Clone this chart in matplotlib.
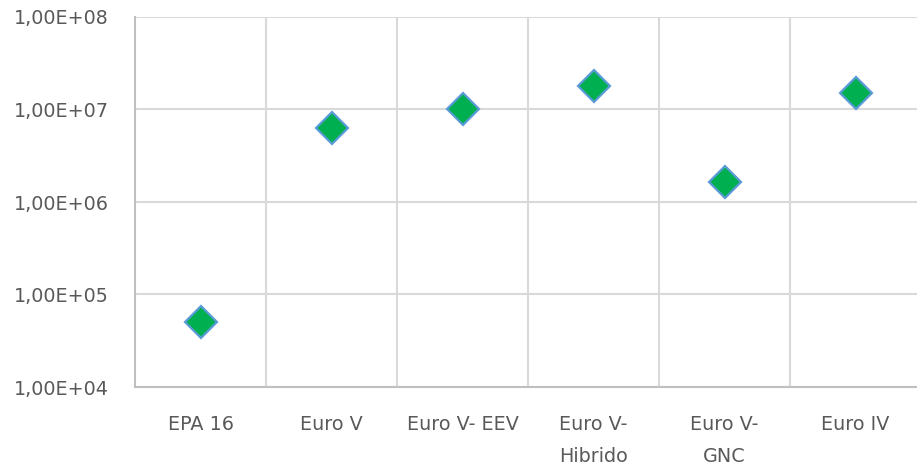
import numpy as np
import matplotlib
matplotlib.use("Agg")
import matplotlib.pyplot as plt
from matplotlib.ticker import FixedLocator, NullLocator

# ============================================================
# Data
# ============================================================
categories = ["EPA 16", "Euro V", "Euro V- EEV", "Euro V-\nHibrido", "Euro V-\nGNC", "Euro IV"]
values = [5.0e4, 6.3e6, 1.0e7, 1.8e7, 1.65e6, 1.5e7]
y_ticks = [1e4, 1e5, 1e6, 1e7, 1e8]
y_tick_labels = ["1,00E+04", "1,00E+05", "1,00E+06", "1,00E+07", "1,00E+08"]

# ============================================================
# Styling
# ============================================================
plt.rcParams['font.family'] = ['DejaVu Sans']
text_color = "#595959"
grid_color = "#D9D9D9"
axis_color = "#BFBFBF"

W, H = 917, 469
fig = plt.figure(figsize=(W / 100, H / 100), dpi=100)
left, right, top, bottom = 135, 921, 17, 387
ax = fig.add_axes([left / W, 1 - bottom / H, (right - left) / W, (bottom - top) / H])

x = np.arange(len(categories))
ax.plot(x, values, linestyle="none", marker="D", markersize=16,
        markerfacecolor="#00B050", markeredgecolor="#5B9BD5",
        markeredgewidth=1.6, zorder=3, clip_on=False)

ax.set_yscale("log")
ax.set_ylim(1e4, 1e8)
ax.set_xlim(-0.5, len(categories) - 0.5)

ax.yaxis.set_major_locator(FixedLocator(y_ticks))
ax.yaxis.set_minor_locator(NullLocator())
ax.set_yticklabels(y_tick_labels)

ax.set_xticks(x)
ax.set_xticklabels(categories, linespacing=1.9, va="top")
ax.xaxis.set_minor_locator(FixedLocator(np.arange(len(categories)) + 0.5))

ax.grid(True, which="major", axis="y", color=grid_color, linewidth=1.5)
ax.grid(True, which="minor", axis="x", color=grid_color, linewidth=1.5)
ax.set_axisbelow(True)

ax.tick_params(axis="both", which="both", length=0, labelsize=13.8, colors=text_color)
ax.tick_params(axis="y", pad=19)
ax.tick_params(axis="x", pad=20)

for side in ["top", "right"]:
    ax.spines[side].set_visible(False)
for side in ["left", "bottom"]:
    ax.spines[side].set_color(axis_color)
    ax.spines[side].set_linewidth(1.5)

fig.savefig("out.png", dpi=100)
plt.close(fig)
